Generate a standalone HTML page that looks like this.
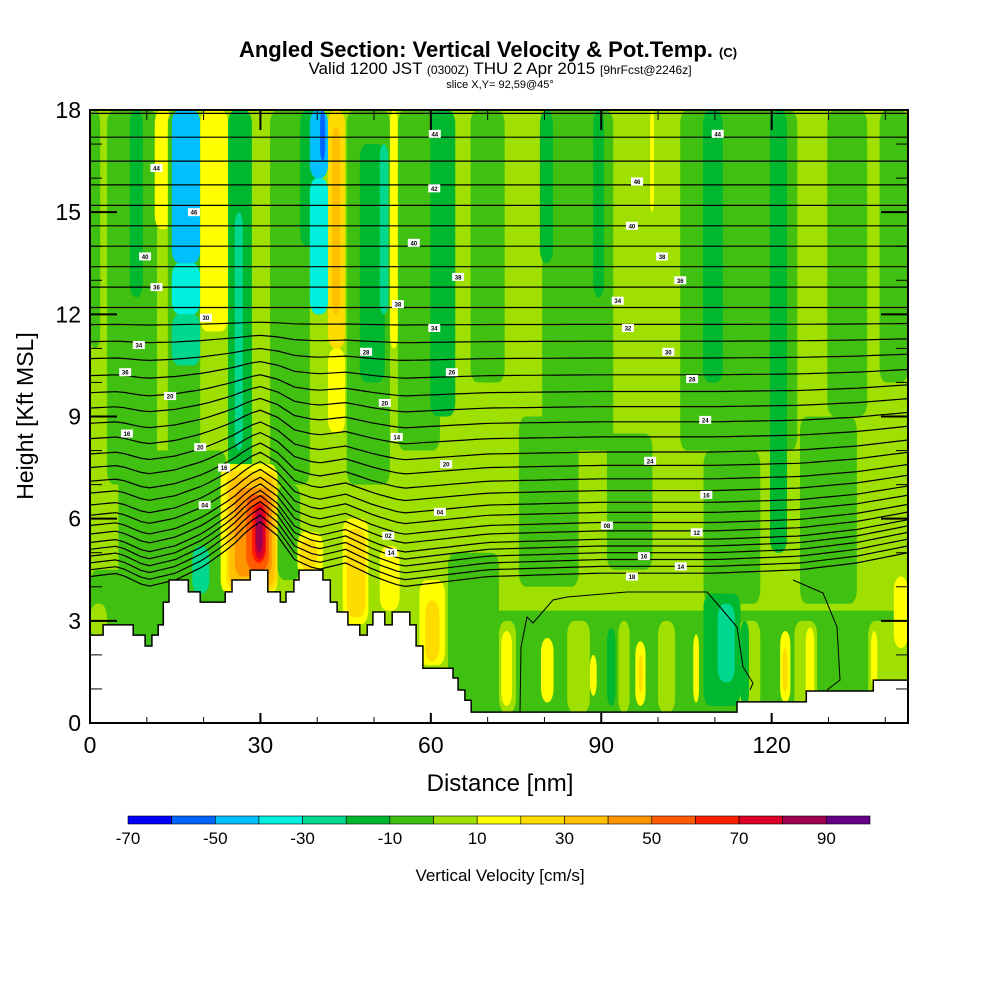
<!DOCTYPE html>
<html><head><meta charset="utf-8"><style>
html,body{margin:0;padding:0;background:#fff;}
svg{display:block;font-family:"Liberation Sans",sans-serif;}
</style></head><body>
<svg id="chart" width="1000" height="1000" viewBox="0 0 1000 1000" xmlns="http://www.w3.org/2000/svg">
<text x="488" y="57" text-anchor="middle" font-size="22" font-weight="bold">Angled Section: Vertical Velocity &amp; Pot.Temp. <tspan font-size="13">(C)</tspan></text>
<text x="500" y="74" text-anchor="middle" font-size="17">Valid 1200 JST <tspan font-size="12">(0300Z)</tspan> THU 2 Apr 2015 <tspan font-size="12">[9hrFcst@2246z]</tspan></text>
<text x="500" y="88" text-anchor="middle" font-size="11">slice X,Y= 92,59@45°</text>
<defs><clipPath id="plotclip"><rect x="90" y="110" width="818" height="613"/></clipPath></defs>
<g id="plot" clip-path="url(#plotclip)"></g>
<g id="axes"></g>
<text x="500" y="791" text-anchor="middle" font-size="24">Distance [nm]</text>
<text transform="translate(33,416) rotate(-90)" text-anchor="middle" font-size="23">Height [Kft MSL]</text>
<g id="cbar"></g>
<text x="500" y="881" text-anchor="middle" font-size="17">Vertical Velocity [cm/s]</text>
</svg>
<script>
// ---- data ----
const cbarBounds = [-70,-60,-50,-40,-30,-20,-10,0,10,20,30,40,50,60,70,80,90,100];
const cbarColors = ["#0000ff","#0064ff","#00c0ff","#00f0e0","#00d890","#00b830","#40c010","#a0e000","#ffff00","#ffdc00","#ffc000","#ff9600","#ff5a00","#ff1e00","#dc0028","#a00050","#640088"];
const cbarLabels = [-70,-50,-30,-10,10,30,50,70,90];
const xTicks = [0,30,60,90,120];
const yTicks = [0,3,6,9,12,15,18];
// vertical velocity patches (nm, kft, cm/s)
const wX0 = [0,3,7,11.4,13.7,14.4,14.4,14.4,19.4,24.3,25.5,31.7,37,38.7,38.7,40.5,41.9,41.9,42.6,45.2,47.5,51,52.8,54.2,59.9,67,79.6,79.2,88.6,98.6,103.9,107.9,119.7,129.8,139,
 5,9.5,10,18,33,75.5,91,108,125,0,0,64,72,84,93,100,114,124,137,
 72.4,79.4,88,96,106.2,121.5,126,137.5,141.5,69.5,91,108,110.5,114.5,96.6,121.9,
 23,24,24.5,25.5,27.5,28.5,29,29.2,36.5,37,44.5,45.2,51,58,59,63];
const wX1 = [1.8,11.8,9.3,14.4,19.4,19.4,19.4,19.4,24.3,28.5,26.9,38.7,40.5,41.9,41.9,41.4,44.9,44.9,44,52.8,51.9,52.5,54.2,61.6,64.3,73,92.1,81.5,90.5,99.3,124.5,111.4,122.7,136.8,144,
 24,13.5,12.5,21,37,86,99,118,135,14,3,144,75,88,95,103,118,128,144,
 74.3,81.6,89.2,97.8,107.2,123.3,127.5,138.6,144,70.5,92.5,114.5,113.5,116,97.3,122.8,
 33,33,32.5,32,31.5,31,30.8,30.4,41,40,49,48.5,54.5,62.5,61.5,72];
const wZ0 = [11,7,12.5,14.5,7.5,10.5,12,13.5,11.5,7,8,7,14,12,16,16.5,8.5,11,12,7,10,12,11,8,9,10,8,13.5,12.5,15,8,10,5,9,10,
 3.5,2.2,2.2,3.8,4.2,4,4.5,3.5,3.5,2.3,2.5,0.3,0.3,0.3,0.3,0.3,0.3,0.3,0.3,
 0.5,0.6,0.8,0.5,0.6,0.6,0.6,1,2.2,0.9,0.5,0.5,1.2,0.5,0.9,0.9,
 3.8,3.9,4,4.3,4.5,4.7,4.8,5,4.3,4.5,2.9,3.1,3.3,1.7,1.8,0.5];
const wZ1 = [18,18,18,18,18,12,13.5,18,18,18,15,18,18,16,18,18,11,18,17.5,18,17,17,18,18,18,18,18,18,18,18,18,18,18,18,18,
 8,4.5,4.3,5.2,7,9,8.5,8,9,4.5,3.5,3.3,3,3,3,3,3,3,3,
 2.7,2.5,2,2.4,2.6,2.7,2.8,2.7,4.3,3,2.8,3.8,3.5,3,2,2.2,
 7.6,7.4,7.2,6.9,6.7,6.5,6.4,6.2,5.6,5.4,6,5.7,5.2,4.2,3.6,5];
const wV = [-5,-5,-15,15,-5,-25,-35,-45,15,-15,-25,-5,-15,-35,-45,-55,15,25,35,-5,-15,-25,15,-5,-15,-5,-5,-15,-15,15,-5,-15,-15,-5,-5,
 -5,-15,-25,-25,-5,-5,-5,-5,-5,-5,5,-5,5,5,5,5,5,5,5,
 15,15,15,15,15,15,15,15,15,-25,-15,-15,-25,-15,25,25,
 15,25,35,45,55,65,75,85,15,25,15,25,15,15,25,-5];
// terrain steps
const terrX = [0,2.3,7.6,9.7,10.9,12.0,12.9,13.9,17.3,19.4,23.8,25.0,28.2,31.3,33.5,34.5,35.9,36.8,41.0,42.3,43.5,45.4,47.5,48.8,49.8,51.9,53.2,56.3,57.4,58.6,63.9,64.8,66.0,67.1,113.9,126.1,137.9];
const terrH = [2.58,2.88,2.58,2.26,2.58,2.88,3.55,4.2,3.85,3.55,3.85,4.2,4.49,3.85,3.55,3.85,4.2,4.49,4.2,3.55,3.26,2.88,2.58,2.88,3.26,2.88,3.26,2.88,2.26,1.61,1.32,0.97,0.67,0.32,0.62,0.94,1.26];
// potential temperature isentropes
const thetaBase = [17.9,17.2,16.5,15.8,15.2,14.6,14.0,13.4,12.8,12.2,11.7,11.2,10.7,10.2,9.7,9.25,8.8,8.35,7.9,7.5,7.1,6.75,6.4,6.1,5.8,5.55,5.3,5.1,4.9,4.7,4.5,4.3];
const thetaAnchorX = [0,5,10,15,20,25,28,30,33,36,40,45,50,55,60,70,90,110,125,135,144];
const thetaOffset = [0,0.1,-0.3,-0.1,0.3,0.9,1.4,1.6,1.2,0.5,0.2,0.4,0.0,-0.3,-0.2,0,0.1,0.1,0.2,0.4,0.7];
const labelX = [11.7,18.3,9.7,11.7,20.4,8.6,6.2,14.1,6.5,19.4,23.6,20.2,60.7,60.6,57,64.8,54.2,60.6,48.6,63.7,51.9,54,62.7,61.6,52.5,53,106.8,110.5,96.3,95.4,100.7,103.9,92.9,94.7,101.8,106,108.3,98.6,108.5,91,97.5,104,95.4];
const labelY = [16.3,15,13.7,12.8,11.9,11.1,10.3,9.6,8.5,8.1,7.5,6.4,17.3,15.7,14.1,13.1,12.3,11.6,10.9,10.3,9.4,8.4,7.6,6.2,5.5,5,5.6,17.3,15.9,14.6,13.7,13,12.4,11.6,10.9,10.1,8.9,7.7,6.7,5.8,4.9,4.6,4.3,3.8].slice(0,43);
const labelText = ["44","46","40","36","30","34","36","20","16","20","16","04","44","42","40","38","38","34","28","26","20","14","20","04","02","14","12","44","46","40","38","36","34","32","30","28","24","24","16","08","16","14","18"];
// ---- scales ----
const NS="http://www.w3.org/2000/svg";
const X = d => 90 + d*(818/144);
const Y = k => 723 - k*(613/18);
function colorOf(v){for(let i=0;i<cbarColors.length;i++){if(v<cbarBounds[i+1])return cbarColors[i];}return cbarColors[cbarColors.length-1];}
function mk(tag,attrs,parent){const e=document.createElementNS(NS,tag);for(const k in attrs)e.setAttribute(k,attrs[k]);parent.appendChild(e);return e;}
const plot=document.getElementById('plot');
const bg=mk('rect',{x:90,y:110,width:818,height:613,fill:colorOf(5)},plot);


for(let i=0;i<wV.length;i++){
  const x0=X(wX0[i]),x1=X(wX1[i]),y0=Y(wZ1[i]),y1=Y(wZ0[i]);
  const r=mk('rect',{x:x0,y:y0,width:x1-x0,height:y1-y0,rx:Math.min((x1-x0)/2,7),ry:Math.min((y1-y0)/2,14),fill:colorOf(wV[i])},plot);
  
  
}
// isentropes
function interp(x){for(let i=0;i<thetaAnchorX.length-1;i++){if(x<=thetaAnchorX[i+1]){const t=(x-thetaAnchorX[i])/(thetaAnchorX[i+1]-thetaAnchorX[i]);return thetaOffset[i]+t*(thetaOffset[i+1]-thetaOffset[i]);}}return thetaOffset[thetaOffset.length-1];}
thetaBase.forEach((b)=>{
  const w=Math.max(0,Math.min(1,(12-b)/7));
  let d='';
  for(let x=0;x<=144;x+=1.5){d+=(x===0?'M':'L')+X(x).toFixed(1)+','+Y(b+interp(x)*w).toFixed(1);}
  const p=mk('path',{d:d,fill:'none',stroke:'#000','stroke-width':1.2},plot);
  
  
});
// velocity contours
['M520,712 L521,647 L527,617 L533,623 L553,600 L567,597 L627,592 L707,592 L720,607 L737,627 L743,667 L753,683 L750,690',
 'M793,580 L823,593 L837,627 L840,680 L827,690'].forEach(d=>{
  const p=mk('path',{d:d,fill:'none',stroke:'#000','stroke-width':1},plot);
  
  
});
// terrain
let td='M'+X(0)+','+Y(0);
for(let i=0;i<terrX.length;i++){const xe=i<terrX.length-1?terrX[i+1]:144;td+=' L'+X(terrX[i]).toFixed(1)+','+Y(terrH[i]).toFixed(1)+' L'+X(xe).toFixed(1)+','+Y(terrH[i]).toFixed(1);}
td+=' L'+X(144)+','+Y(0)+' Z';
const tp=mk('path',{d:td,fill:'#fff',stroke:'#000','stroke-width':1.5},plot);


// labels
for(let i=0;i<labelText.length;i++){
  const g=mk('g',{},plot);
  
  
  mk('rect',{x:X(labelX[i])-6,y:Y(labelY[i])-4,width:12,height:8,fill:'#fff'},g);
  const t=mk('text',{x:X(labelX[i]),y:Y(labelY[i])+2.5,'font-size':6,'text-anchor':'middle','font-weight':'bold'},g);
  t.textContent=labelText[i];
}
// axes
const axes=document.getElementById('axes');
const frame=mk('rect',{x:90,y:110,width:818,height:613,fill:'none',stroke:'#000','stroke-width':2},axes);


for(let d=0;d<=144;d+=10){const maj=d%30===0;const L=maj?10:6;
  mk('line',{x1:X(d),y1:723,x2:X(d),y2:723-L,stroke:'#000','stroke-width':maj?2:1},axes);
  mk('line',{x1:X(d),y1:110,x2:X(d),y2:110+(maj?20:10),stroke:'#000','stroke-width':maj?2:1},axes);}
for(let k=0;k<=18;k++){const maj=k%3===0;const L=maj?27:12;
  mk('line',{x1:90,y1:Y(k),x2:90+L,y2:Y(k),stroke:'#000','stroke-width':maj?2:1},axes);
  mk('line',{x1:908,y1:Y(k),x2:908-L,y2:Y(k),stroke:'#000','stroke-width':maj?2:1},axes);}
xTicks.forEach(v=>{const t=mk('text',{x:X(v),y:753,'text-anchor':'middle','font-size':23},axes);
  
  
  t.textContent=v;});
yTicks.forEach(v=>{const t=mk('text',{x:81,y:Y(v)+8,'text-anchor':'end','font-size':23},axes);
  
  
  t.textContent=v;});
// colorbar
const cb=document.getElementById('cbar');
const cw=742/cbarColors.length;
cbarColors.forEach((c,i)=>{const r=mk('rect',{x:128+i*cw,y:816,width:cw,height:8,fill:c,stroke:'#000','stroke-width':0.6},cb);
  
  });
cbarLabels.forEach(v=>{const i=cbarBounds.indexOf(v);const t=mk('text',{x:128+i*cw,y:844,'text-anchor':'middle','font-size':17},cb);
  
  
  t.textContent=v;});
</script>
</body></html>
